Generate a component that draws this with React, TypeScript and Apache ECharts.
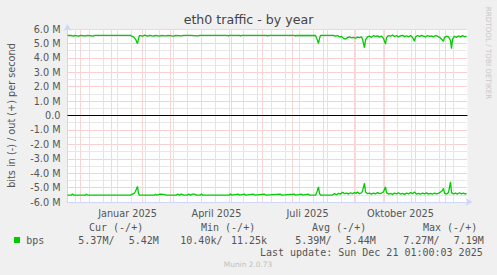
import React, { useEffect, useRef } from "react";
import * as echarts from "echarts";

// x = days relative to 1 Jan 2025
const X_MIN = -44;
const X_MAX = 356;
const monthStartDays = [-31, 0, 31, 59, 90, 120, 151, 181, 212, 243, 273, 304, 334];
const biweeklyDays = [-36, -22, -8, 6, 20, 34, 48, 62, 76, 90, 104, 118, 132, 146, 160, 174, 188, 202, 216, 230, 244, 258, 272, 286, 300, 314, 328, 342];
const xLabelDays = [16, 105, 196, 289];
const xLabelTexts = ["Januar 2025", "April 2025", "Juli 2025", "Oktober 2025"];

const Y_MIN = -6;
const Y_MAX = 6;

// out (+), Mbit/s
const outDays = [-44, -40, -38, -37, -33, -31, -26, -24, -18, -17, 19, 20, 22, 24, 26, 27, 28, 31, 33, 36, 38, 42, 44, 48, 50, 54, 57, 62, 64, 70, 72, 80, 86, 88, 116, 117, 118, 128, 129, 130, 155, 156, 157, 183, 184, 185, 204, 205, 207, 208, 209, 222, 224, 226, 228, 230, 232, 234, 236, 238, 240, 242, 244, 246, 248, 250, 251, 253, 254, 256, 258, 260, 262, 264, 266, 268, 270, 272, 274, 275, 277, 279, 281, 283, 285, 287, 289, 291, 293, 295, 297, 299, 301, 303, 304, 306, 308, 310, 312, 314, 316, 318, 320, 322, 324, 326, 328, 330, 332, 333, 335, 337, 339, 340, 341, 343, 345, 347, 349, 351, 353, 355];
const outValues = [5.56, 5.55, 5.5, 5.56, 5.5, 5.56, 5.52, 5.56, 5.51, 5.56, 5.56, 5.5, 5.45, 5.3, 4.98, 5.35, 5.56, 5.5, 5.57, 5.5, 5.56, 5.5, 5.56, 5.51, 5.56, 5.52, 5.56, 5.51, 5.56, 5.52, 5.56, 5.56, 5.52, 5.56, 5.56, 5.51, 5.56, 5.56, 5.51, 5.56, 5.56, 5.51, 5.56, 5.56, 5.51, 5.56, 5.55, 5.4, 5.0, 5.35, 5.56, 5.56, 5.5, 5.55, 5.45, 5.48, 5.35, 5.3, 5.4, 5.46, 5.38, 5.42, 5.36, 5.44, 5.4, 5.45, 5.3, 4.7, 5.25, 5.45, 5.5, 5.42, 5.55, 5.48, 5.52, 5.44, 5.5, 5.35, 4.95, 5.4, 5.55, 5.5, 5.58, 5.48, 5.55, 5.45, 5.52, 5.56, 5.47, 5.53, 5.45, 5.55, 5.42, 5.15, 5.45, 5.55, 5.48, 5.56, 5.5, 5.45, 5.55, 5.48, 5.52, 5.46, 5.55, 5.5, 5.42, 5.3, 5.15, 5.42, 5.5, 5.45, 5.2, 4.64, 5.3, 5.5, 5.42, 5.52, 5.45, 5.55, 5.46, 5.5];

// in (-), Mbit/s
const inDays = [-44, -40, -39, -38, -26, -25, -24, 19, 21, 23, 24, 26, 27, 28, 43, 44, 45, 49, 52, 55, 65, 66, 68, 70, 72, 76, 77, 79, 81, 83, 85, 89, 90, 91, 118, 119, 120, 127, 128, 133, 134, 142, 143, 153, 154, 169, 170, 183, 184, 190, 191, 197, 198, 204, 205, 207, 208, 209, 221, 223, 225, 227, 229, 231, 233, 235, 237, 239, 241, 243, 245, 246, 248, 250, 251, 253, 254, 256, 258, 260, 262, 264, 266, 268, 270, 272, 274, 275, 277, 279, 281, 283, 285, 287, 289, 291, 293, 295, 297, 299, 301, 303, 305, 307, 309, 311, 313, 315, 317, 319, 321, 323, 325, 327, 329, 331, 332, 333, 335, 337, 339, 340, 342, 344, 346, 348, 350, 352, 354, 355];
const inValues = [-5.52, -5.52, -5.45, -5.52, -5.52, -5.46, -5.52, -5.52, -5.45, -5.38, -5.25, -4.92, -5.42, -5.52, -5.52, -5.46, -5.52, -5.46, -5.47, -5.52, -5.52, -5.46, -5.52, -5.46, -5.52, -5.52, -5.46, -5.52, -5.46, -5.46, -5.52, -5.52, -5.45, -5.52, -5.52, -5.45, -5.52, -5.46, -5.52, -5.46, -5.52, -5.46, -5.52, -5.46, -5.52, -5.46, -5.52, -5.46, -5.52, -5.46, -5.52, -5.46, -5.52, -5.52, -5.4, -4.95, -5.4, -5.52, -5.52, -5.42, -5.5, -5.4, -5.45, -5.33, -5.42, -5.38, -5.45, -5.36, -5.42, -5.35, -5.4, -5.3, -5.42, -5.36, -5.25, -4.7, -5.3, -5.42, -5.38, -5.45, -5.38, -5.44, -5.35, -5.42, -5.38, -5.3, -4.95, -5.35, -5.45, -5.4, -5.47, -5.38, -5.44, -5.36, -5.45, -5.4, -5.47, -5.38, -5.44, -5.35, -5.42, -5.3, -5.45, -5.4, -5.46, -5.38, -5.44, -5.37, -5.45, -5.4, -5.46, -5.38, -5.44, -5.4, -5.3, -5.2, -5.05, -5.38, -5.45, -5.35, -4.6, -5.35, -5.44, -5.38, -5.45, -5.36, -5.44, -5.38, -5.45, -5.4];

const legendHeaders = ["Cur (-/+)", "Min (-/+)", "Avg (-/+)", "Max (-/+)"];
const legendValues = ["5.37M/", "5.42M", "10.40k/", "11.25k", "5.39M/", "5.44M", "7.27M/", "7.19M"];
const seriesName = "bps";
const titleText = "eth0 traffic - by year";
const yAxisTitle = "bits in (-) / out (+) per second";
const lastUpdate = "Last update: Sun Dec 21 01:00:03 2025";
const watermark = "RRDTOOL / TOBI OETIKER";
const munin = "Munin 2.0.73";

const SANS = "DejaVu Sans";
const MONO = "DejaVu Sans Mono";
const GREEN = "#00CC00";
const TXT = "#555555";
const AXIS = "#CFD6F8";
const MAJOR = "#F0A0A0";
const MINOR = "#D0D0D0";
const MAJOR_V = "#F9D6D6";
const MINOR_V = "#E4E4E4";

export default function App() {
  const ref = useRef<HTMLDivElement>(null);
  useEffect(() => {
    if (!ref.current) return;
    const chart = echarts.init(ref.current, undefined, { renderer: "svg" });
    const headerX = [89, 201, 312, 423];
    const valueX = [78.3, 128.7, 180.3, 231, 295.3, 345.7, 403.3, 453.7];
    const graphic: any[] = [
      { type: "text", x: 248.5, y: 19.5, style: { text: titleText, font: `12.6px ${SANS}`, fill: "#444", align: "center", verticalAlign: "middle" } },
      { type: "text", x: 11.5, y: 115.5, rotation: Math.PI / 2, style: { text: yAxisTitle, font: `9.7px ${SANS}`, fill: TXT, align: "center", verticalAlign: "middle" } },
      { type: "text", x: 488, y: 53, rotation: -Math.PI / 2, style: { text: watermark, font: `7.2px ${SANS}`, fill: "#c8c8c8", align: "center", verticalAlign: "middle" } },
      { type: "rect", shape: { x: 14, y: 237, width: 6, height: 6 }, style: { fill: GREEN } },
      { type: "text", x: 26.3, y: 240.5, style: { text: seriesName, font: `10px ${MONO}`, fill: TXT, verticalAlign: "middle" } },
      { type: "text", x: 482.7, y: 252, style: { text: lastUpdate, font: `10px ${MONO}`, fill: TXT, align: "right", verticalAlign: "middle" } },
      { type: "text", x: 248, y: 264.5, style: { text: munin, font: `7.4px ${SANS}`, fill: "#c0c0c0", align: "center", verticalAlign: "middle" } },
    ];
    legendHeaders.forEach((h, i) => graphic.push({ type: "text", x: headerX[i], y: 227.5, style: { text: h, font: `10px ${MONO}`, fill: TXT, verticalAlign: "middle" } }));
    legendValues.forEach((v, i) => graphic.push({ type: "text", x: valueX[i], y: 240.5, style: { text: v, font: `10px ${MONO}`, fill: TXT, verticalAlign: "middle" } }));

    const dotted = (color: string) => ({ color, width: 1, type: [1, 1] as any });

    // vertical grid lines as a broken line series: segments separated by gaps
    const vGridSeries = (days: number[], color: string) => {
      const data: any[] = [];
      days.forEach((d) => {
        data.push([d, Y_MIN], [d, Y_MAX], [d, "-"]);
      });
      return {
        type: "line",
        z: 3,
        silent: true,
        showSymbol: false,
        connectNulls: false,
        data,
        lineStyle: { color, width: 1, type: "solid" },
      };
    };

    chart.setOption({
      animation: false,
      backgroundColor: "#F0F0F0",
      textStyle: { fontFamily: SANS },
      grid: { left: 67.5, top: 29, width: 400, height: 173, show: true, backgroundColor: "#FFFFFF", borderWidth: 0 },
      xAxis: {
        type: "value",
        min: X_MIN,
        max: X_MAX,
        splitLine: { show: false },
        axisTick: { show: false },
        axisLine: { onZero: false, lineStyle: { color: AXIS, width: 1 }, symbol: ["none", "arrow"], symbolSize: [6, 7], symbolOffset: [0, 5] },
        axisLabel: {
          customValues: xLabelDays,
          color: TXT,
          fontSize: 9.7,
          fontFamily: SANS,
          margin: 6,
          formatter: (v: number) => {
            const i = xLabelDays.indexOf(v);
            return i >= 0 ? xLabelTexts[i] : "";
          },
        },
      },
      yAxis: {
        type: "value",
        min: Y_MIN,
        max: Y_MAX,
        interval: 1,
        axisLine: { show: true, onZero: false, lineStyle: { color: AXIS, width: 1 }, symbol: ["none", "arrow"], symbolSize: [6, 7], symbolOffset: [0, 5] },
        axisTick: { show: false },
        axisLabel: {
          color: TXT,
          fontSize: 9.7,
          fontFamily: SANS,
          margin: 7,
          formatter: (v: number) => (v === 0 ? "0.0" : `${v.toFixed(1)} M`),
        },
        splitLine: { show: true, lineStyle: dotted(MAJOR) },
        minorTick: { show: false, splitNumber: 2 },
        minorSplitLine: { show: true, lineStyle: dotted(MINOR) },
      },
      series: [
        vGridSeries(biweeklyDays, MINOR_V),
        vGridSeries(monthStartDays, MAJOR_V),
        {
          type: "line",
          z: 3,
          silent: true,
          showSymbol: false,
          data: [[X_MIN, 0], [X_MAX, 0]],
          lineStyle: { color: "#000000", width: 1 },
        },
        {
          name: "out",
          type: "line",
          z: 4,
          showSymbol: false,
          data: outDays.map((d, i) => [d, outValues[i]]),
          lineStyle: { color: GREEN, width: 1.3 },
        },
        {
          name: "in",
          type: "line",
          z: 4,
          showSymbol: false,
          data: inDays.map((d, i) => [d, inValues[i]]),
          lineStyle: { color: GREEN, width: 1.3 },
        },
      ],
      graphic,
    });
    return () => chart.dispose();
  }, []);
  return <div ref={ref} style={{ position: "fixed", left: 0, top: 0, width: 497, height: 275 }} />;
}
